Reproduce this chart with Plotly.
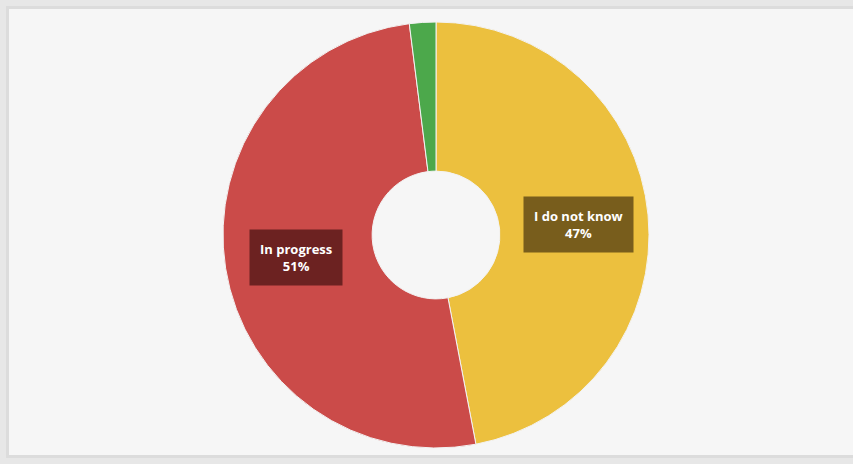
import plotly.graph_objects as go

labels = ["I do not know", "In progress", "Done"]
values = [47, 51, 2]
colors = ["#ECC03E", "#CB4B49", "#4CA84B"]
label_boxes = {"I do not know": "rgba(110,85,25,0.92)", "In progress": "rgba(100,30,30,0.92)"}

W, H = 853, 464
cx, cy, r = 436, 235, 213

fig = go.Figure()
fig.add_trace(go.Pie(
    labels=labels, values=values, sort=False, direction="clockwise", rotation=0,
    hole=0.30, marker=dict(colors=colors, line=dict(color="#f3f3f3", width=1)),
    textinfo="none", hoverinfo="label+percent", showlegend=False,
    domain=dict(x=[(cx - r) / W, (cx + r) / W], y=[(H - cy - r) / H, (H - cy + r) / H]),
))

total = sum(values)
ann_pos = {"I do not know": (578, 224), "In progress": (296, 257)}
for lab, v in zip(labels, values):
    if lab in ann_pos:
        x, y = ann_pos[lab]
        fig.add_annotation(
            x=x / W, y=1 - y / H, xref="paper", yref="paper", showarrow=False,
            xanchor="center", yanchor="middle",
            text=f"<b>{lab}</b><br><b>{round(100 * v / total)}%</b>",
            font=dict(family="Open Sans, Arial", size=13, color="white"),
            bgcolor=label_boxes[lab], borderpad=10, align="center",
        )

fig.update_layout(
    width=W, height=H, margin=dict(l=0, r=0, t=0, b=0),
    paper_bgcolor="#e7e7e7", plot_bgcolor="#e7e7e7",
    shapes=[
        dict(type="rect", xref="paper", yref="paper", x0=6 / W, x1=1.01, y0=6 / H, y1=1 - 6 / H,
             fillcolor="#dcdcdc", line=dict(width=0), layer="below"),
        dict(type="rect", xref="paper", yref="paper", x0=9 / W, x1=1.01, y0=9 / H, y1=1 - 9 / H,
             fillcolor="#f6f6f6", line=dict(width=0), layer="below"),
    ],
)
fig.write_html("out.html")
